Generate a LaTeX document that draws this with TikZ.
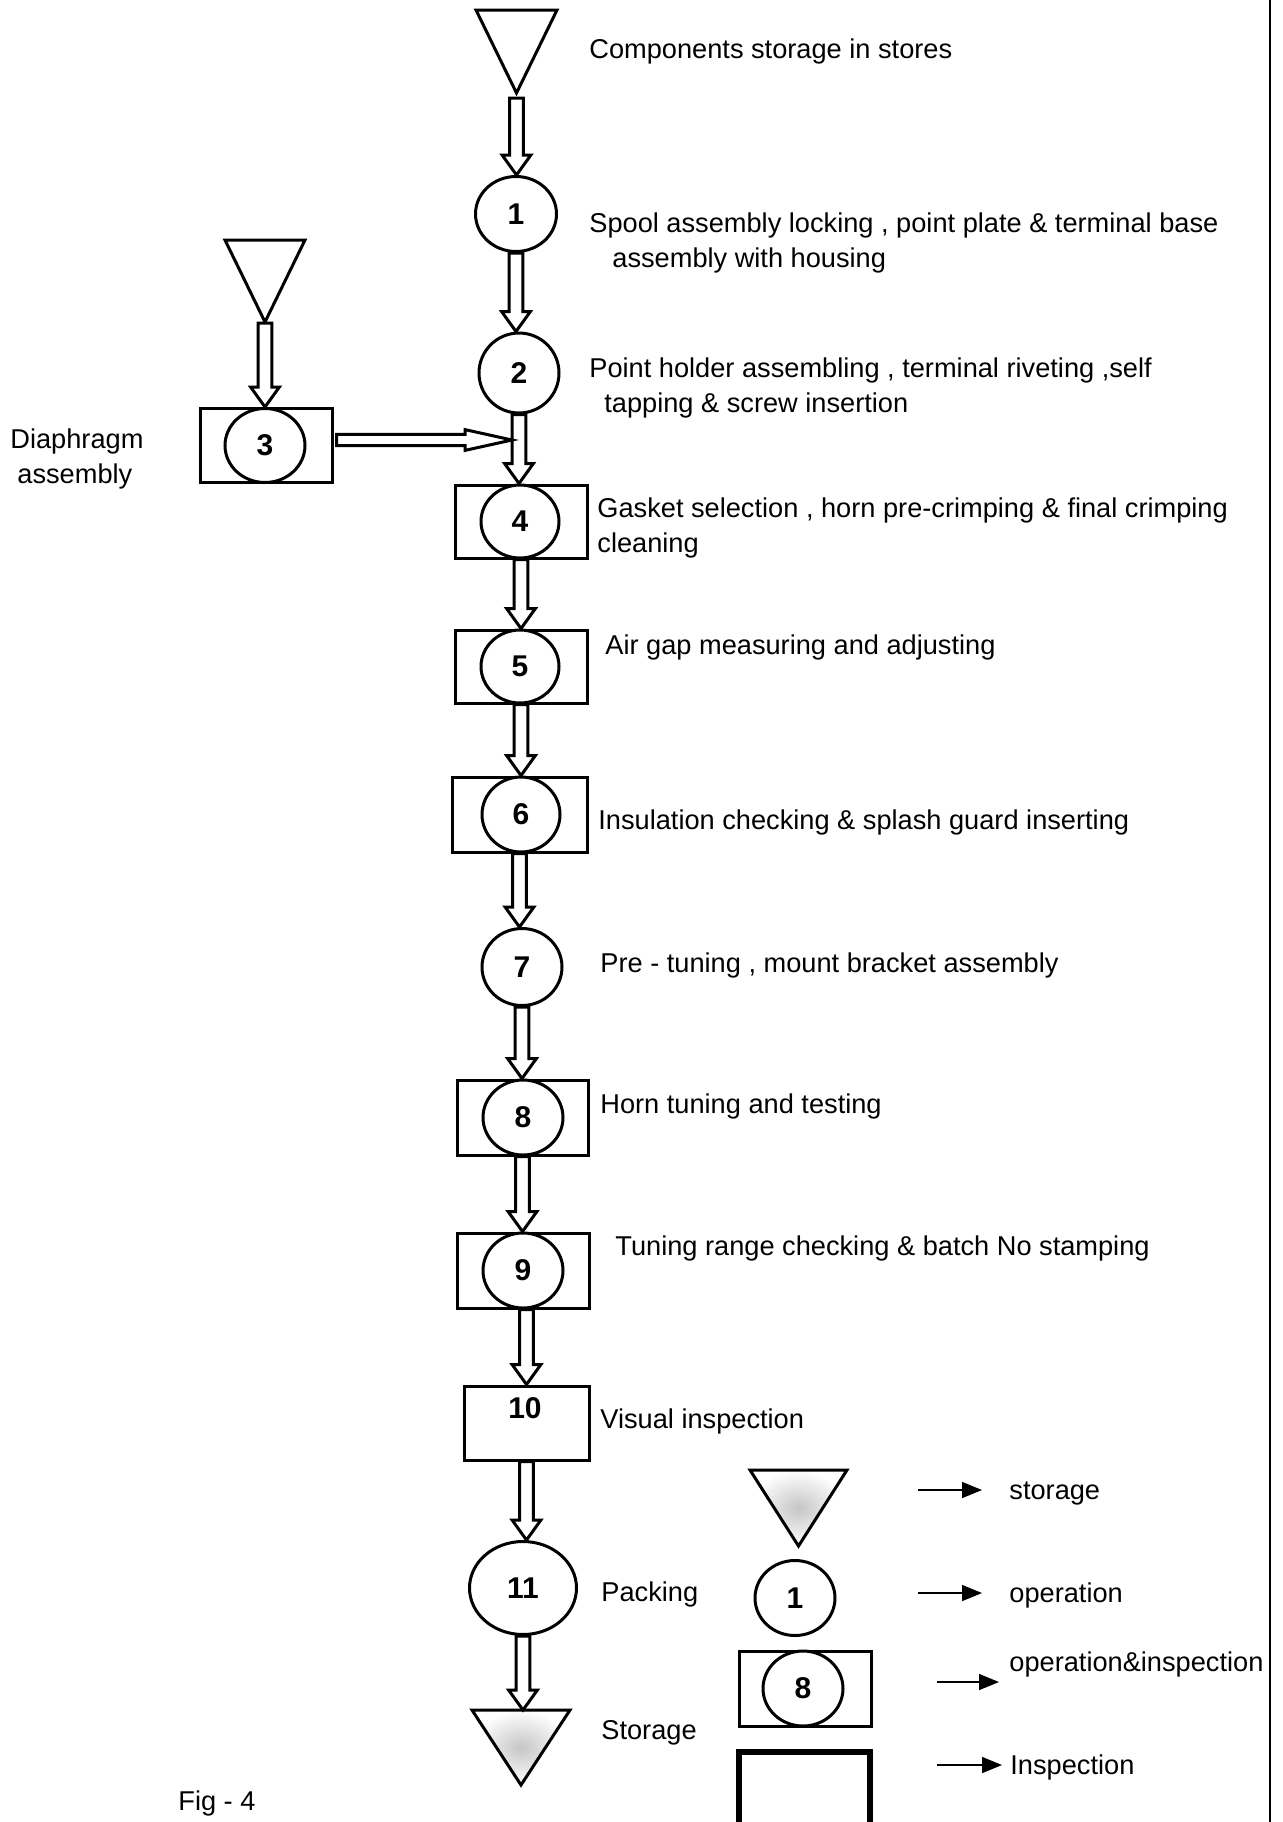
\documentclass[tikz,border=0pt]{standalone}
\usepackage{fontspec}
\setmainfont{Liberation Sans}
\usetikzlibrary{calc,shapes.geometric,arrows.meta}

% geometry of the hollow block arrows (shaft half width, head half width, head length, start gap)
\def\blksw{3.4pt}\def\blkhw{7.2pt}\def\blkhl{10pt}\def\blkgap{0pt}

\newcommand\storagetri[2][]{%
  \draw[flow, line join=miter, #1] (#2.north west) -- (#2.north east) -- (#2.south) -- cycle;}

\tikzset{
  flow/.style={line width=1.5pt},
  txt/.style={font=\fontsize{13.6pt}{17pt}\selectfont, anchor=base west, inner sep=0pt},
  numfont/.style={font=\fontsize{15pt}{18pt}\selectfont\bfseries},
  op/.style={ellipse, draw, flow, fill=white, inner sep=0pt, numfont},
  opbox/.style={rectangle, draw, flow, inner sep=0pt},
  stor/.style={rectangle, draw=none, inner sep=0pt, outer sep=0pt, anchor=north},
  shadedstor/.style={inner color=gray!45, outer color=white},
  gapped/.code={\def\blkgap{#1}},
  longhead/.code={\def\blksw{2.8pt}\def\blkhw{5.2pt}\def\blkhl{23.5pt}},
  blk/.style={flow, fill=white, line join=miter,
    to path={
      ($(\tikztostart)!\blkgap!(\tikztotarget)$) coordinate (blk-s)
      ($(\tikztotarget)!\blkhl!(\tikztostart)$) coordinate (blk-h)
      ($(blk-s)!\blksw!90:(\tikztotarget)$)
      -- ($(blk-h)!\blksw!90:(\tikztotarget)$)
      -- ($(blk-h)!\blkhw!90:(\tikztotarget)$)
      -- (\tikztotarget)
      -- ($(blk-h)!\blkhw!-90:(\tikztotarget)$)
      -- ($(blk-h)!\blksw!-90:(\tikztotarget)$)
      -- ($(blk-s)!\blksw!-90:(\tikztotarget)$)
      -- cycle}},
  legarrow/.style={line width=0.8pt, -{Triangle[length=10pt,width=8pt]}}
}

\begin{document}
\begin{tikzpicture}[x=0.5pt, y=-0.5pt]
\useasboundingbox (0,0) rectangle (1283,1822);

% page rule on the right
\draw[line width=1pt] (1270,0) -- (1270,1822);

% ---- main column ----
\node[stor, minimum width=40.5pt, minimum height=41.5pt] (t0) at (516.5,10) {};
\storagetri{t0}

\node[op, minimum width=40.5pt, minimum height=37.5pt] (c1) at (516,214) {1};
\node[op, minimum width=40pt, minimum height=40pt] (c2) at (519,373) {2};

% diaphragm branch
\node[stor, minimum width=40pt, minimum height=41pt] (t3) at (265,240) {};
\storagetri{t3}
\node[opbox, minimum width=66pt, minimum height=37pt] (b3) at (266,445.5) {};
\node[op, minimum width=40pt, minimum height=37pt] (c3) at (265,445.5) {3};

\node[opbox, minimum width=66pt, minimum height=36.5pt] (b4) at (521,521.5) {};
\node[op, minimum width=39pt, minimum height=36.5pt] (c4) at (520,521.5) {4};

\node[opbox, minimum width=66pt, minimum height=36.5pt] (b5) at (521,666.5) {};
\node[op, minimum width=39pt, minimum height=36.5pt] (c5) at (520,666.5) {5};

\node[opbox, minimum width=67.5pt, minimum height=37.5pt] (b6) at (519.5,814.5) {};
\node[op, minimum width=39pt, minimum height=37.5pt] (c6) at (521,814.5) {6};

\node[op, minimum width=40pt, minimum height=38.5pt] (c7) at (522,967) {7};

\node[opbox, minimum width=65.5pt, minimum height=37.5pt] (b8) at (522.5,1117.5) {};
\node[op, minimum width=40pt, minimum height=37.5pt] (c8) at (523,1117.5) {8};

\node[opbox, minimum width=66pt, minimum height=37.5pt] (b9) at (523,1270.5) {};
\node[op, minimum width=40pt, minimum height=37.5pt] (c9) at (523,1270.5) {9};

\node[opbox, minimum width=62.5pt, minimum height=37pt] (b10) at (526.5,1423) {};
\node[numfont, inner sep=0pt] (n10) at (525,1408) {10};

\node[op, minimum width=53.5pt, minimum height=46.5pt] (c11) at (523,1588) {11};

\node[stor, minimum width=49pt, minimum height=37.5pt] (tb) at (521,1710) {};
\storagetri[shadedstor]{tb}

% ---- flow arrows ----
\draw[blk, gapped=2.5pt] (t0.south) to (t0.south |- c1.north);
\draw[blk] (c1.south) to (c1.south |- c2.north);
\draw[blk, gapped=0.5pt] (t3.south) to (t3.south |- b3.north);
\draw[blk] (c2.south) to (c2.south |- b4.north);
\coordinate (j) at (512,440);
\draw[blk, longhead, gapped=1.5pt] (b3.east |- j) to (j);
\draw[blk] (b4.south) to (b4.south |- b5.north);
\draw[blk] (b5.south) to (b5.south |- b6.north);
\draw[blk] (b6.south) to (b6.south |- c7.north);
\draw[blk] (c7.south) to (c7.south |- b8.north);
\draw[blk] (b8.south) to (b8.south |- b9.north);
\draw[blk] (b10.north |- b9.south) to (b10.north);
\draw[blk] (b10.south) to (b10.south |- c11.north);
\draw[blk] (c11.south) to (c11.south |- tb.north);

% ---- step descriptions ----
\node[txt] (d0) at (589,58) {Components storage in stores};
\node[txt] (d1a) at (589,232) {Spool assembly locking , point plate \& terminal base};
\node[txt] (d1b) at (612,267) {assembly with housing};
\node[txt] (d2a) at (589,377) {Point holder assembling , terminal riveting ,self};
\node[txt] (d2b) at (604,412) {tapping \& screw insertion};
\node[txt] (d3a) at (10,448) {Diaphragm};
\node[txt] (d3b) at (17,483) {assembly};
\node[txt] (d4a) at (597,517) {Gasket selection , horn pre-crimping \& final crimping};
\node[txt] (d4b) at (597,552) {cleaning};
\node[txt] (d5) at (605,654) {Air gap measuring and adjusting};
\node[txt] (d6) at (598,829) {Insulation checking \& splash guard inserting};
\node[txt] (d7) at (600,972) {Pre - tuning , mount bracket assembly};
\node[txt] (d8) at (600,1113) {Horn tuning and testing};
\node[txt] (d9) at (615,1255) {Tuning range checking \& batch No stamping};
\node[txt] (d10) at (600,1428) {Visual inspection};
\node[txt] (d11) at (601,1601) {Packing};
\node[txt] (d12) at (601,1739) {Storage};
\node[txt] (fig) at (178,1810) {Fig - 4};

% ---- legend ----
\node[stor, minimum width=48.5pt, minimum height=38pt] (lt) at (798.5,1470) {};
\storagetri[shadedstor]{lt}
\node[op, minimum width=40pt, minimum height=37.5pt] (lc) at (795,1598) {1};
\node[opbox, minimum width=66pt, minimum height=37.5pt] (lb) at (805,1688.5) {};
\node[op, minimum width=40pt, minimum height=37.5pt] (lbc) at (803,1688.5) {8};
\draw[line width=3pt] (739,1822) -- (739,1752) -- (870,1752) -- (870,1822);

\coordinate (la1) at (918,1490); \coordinate (lb1) at (982,1490);
\coordinate (la2) at (918,1593); \coordinate (lb2) at (982,1593);
\coordinate (la3) at (937,1682); \coordinate (lb3) at (999,1682);
\coordinate (la4) at (937,1765); \coordinate (lb4) at (1002,1765);
\draw[legarrow] (la1) -- (lb1);
\draw[legarrow] (la2) -- (lb2);
\draw[legarrow] (la3) -- (lb3);
\draw[legarrow] (la4) -- (lb4);

\node[txt] (k1) at (1009,1499) {storage};
\node[txt] (k2) at (1009,1602) {operation};
\node[txt] (k3) at (1009,1671) {operation\&inspection};
\node[txt] (k4) at (1010,1774) {Inspection};
\end{tikzpicture}
\end{document}
